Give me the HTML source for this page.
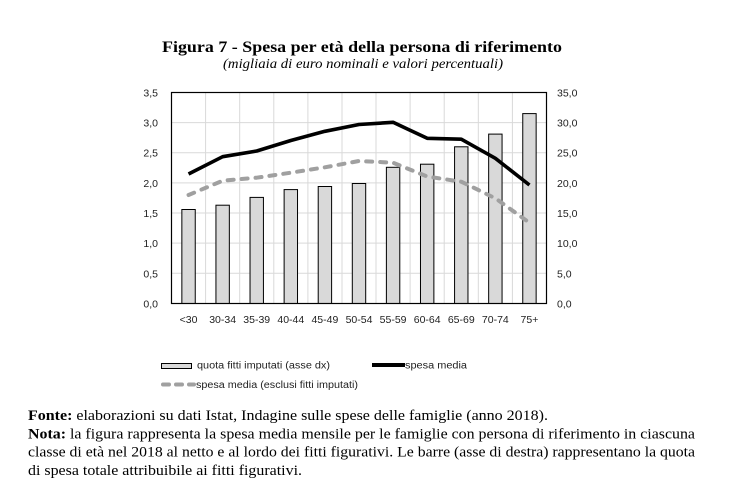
<!DOCTYPE html>
<html><head><meta charset="utf-8"><style>
html,body{margin:0;padding:0;background:#fff;}
svg{display:block;}
</style></head><body>
<svg width="731" height="493" viewBox="0 0 731 493" xmlns="http://www.w3.org/2000/svg">
<rect width="731" height="493" fill="#fff"/>
<!-- Title -->
<text x="162" y="52" font-family="Liberation Serif, serif" font-weight="bold" font-size="16" textLength="400" lengthAdjust="spacingAndGlyphs" fill="#000">Figura 7 - Spesa per età della persona di riferimento</text>
<text x="223" y="68" font-family="Liberation Serif, serif" font-style="italic" font-size="14" textLength="280" lengthAdjust="spacingAndGlyphs" fill="#000">(migliaia di euro nominali e valori percentuali)</text>

<!-- grid -->
<g stroke="#d9d9d9" stroke-width="1">
<line x1="171.5" y1="122.6" x2="546.5" y2="122.6"/>
<line x1="171.5" y1="152.7" x2="546.5" y2="152.7"/>
<line x1="171.5" y1="182.9" x2="546.5" y2="182.9"/>
<line x1="171.5" y1="213.0" x2="546.5" y2="213.0"/>
<line x1="171.5" y1="243.1" x2="546.5" y2="243.1"/>
<line x1="171.5" y1="273.3" x2="546.5" y2="273.3"/>
<line x1="205.6" y1="92.5" x2="205.6" y2="303.5"/>
<line x1="239.7" y1="92.5" x2="239.7" y2="303.5"/>
<line x1="273.8" y1="92.5" x2="273.8" y2="303.5"/>
<line x1="307.9" y1="92.5" x2="307.9" y2="303.5"/>
<line x1="342.0" y1="92.5" x2="342.0" y2="303.5"/>
<line x1="376.0" y1="92.5" x2="376.0" y2="303.5"/>
<line x1="410.1" y1="92.5" x2="410.1" y2="303.5"/>
<line x1="444.2" y1="92.5" x2="444.2" y2="303.5"/>
<line x1="478.3" y1="92.5" x2="478.3" y2="303.5"/>
<line x1="512.4" y1="92.5" x2="512.4" y2="303.5"/>
</g>

<!-- bars -->
<g fill="#d9d9d9" stroke="#000" stroke-width="1">
<rect x="181.85" y="209.5" width="13.4" height="94"/>
<rect x="215.94" y="205.2" width="13.4" height="98.3"/>
<rect x="250.03" y="197.4" width="13.4" height="106.1"/>
<rect x="284.12" y="189.6" width="13.4" height="113.9"/>
<rect x="318.21" y="186.5" width="13.4" height="117"/>
<rect x="352.30" y="183.5" width="13.4" height="120"/>
<rect x="386.39" y="167.3" width="13.4" height="136.2"/>
<rect x="420.48" y="164.2" width="13.4" height="139.3"/>
<rect x="454.57" y="146.8" width="13.4" height="156.7"/>
<rect x="488.66" y="134.1" width="13.4" height="169.4"/>
<rect x="522.75" y="113.6" width="13.4" height="189.9"/>
</g>

<!-- frame -->
<rect x="171.5" y="92.5" width="375" height="211" fill="none" stroke="#000" stroke-width="1.2"/>

<!-- gray dashed line -->
<polyline fill="none" stroke="#a0a0a0" stroke-width="4" stroke-linecap="round" stroke-linejoin="round" stroke-dasharray="6,8"
points="188.55,195 222.64,180.7 256.73,177.7 290.82,172.7 324.91,167.3 359,161 393.09,162.7 427.18,176.5 461.27,181.7 495.36,198.3 529.45,222.7"/>
<!-- black line -->
<polyline fill="none" stroke="#000" stroke-width="3.6" stroke-linejoin="round"
points="188.55,174 222.64,156.7 256.73,151 290.82,140.5 324.91,131.3 359,124.5 393.09,122.3 427.18,138.3 461.27,139.2 495.36,158.3 529.45,185"/>

<!-- left axis labels -->
<g font-family="Liberation Sans, sans-serif" font-size="10.5" fill="#222" text-anchor="end">
<text x="158" y="96.5">3,5</text>
<text x="158" y="126.6">3,0</text>
<text x="158" y="156.7">2,5</text>
<text x="158" y="186.9">2,0</text>
<text x="158" y="217">1,5</text>
<text x="158" y="247.1">1,0</text>
<text x="158" y="277.3">0,5</text>
<text x="158" y="307.4">0,0</text>
</g>
<!-- right axis labels -->
<g font-family="Liberation Sans, sans-serif" font-size="10.5" fill="#222">
<text x="557" y="96.5">35,0</text>
<text x="557" y="126.6">30,0</text>
<text x="557" y="156.7">25,0</text>
<text x="557" y="186.9">20,0</text>
<text x="557" y="217">15,0</text>
<text x="557" y="247.1">10,0</text>
<text x="557" y="277.3">5,0</text>
<text x="557" y="307.4">0,0</text>
</g>
<!-- x labels -->
<g font-family="Liberation Sans, sans-serif" font-size="10.5" fill="#222" text-anchor="middle">
<text x="188.55" y="323">&lt;30</text>
<text x="222.64" y="323">30-34</text>
<text x="256.73" y="323">35-39</text>
<text x="290.82" y="323">40-44</text>
<text x="324.91" y="323">45-49</text>
<text x="359" y="323">50-54</text>
<text x="393.09" y="323">55-59</text>
<text x="427.18" y="323">60-64</text>
<text x="461.27" y="323">65-69</text>
<text x="495.36" y="323">70-74</text>
<text x="529.45" y="323">75+</text>
</g>

<!-- legend -->
<rect x="161.5" y="363.5" width="30" height="5" fill="#d9d9d9" stroke="#000" stroke-width="1"/>
<text x="197" y="368.5" font-family="Liberation Sans, sans-serif" font-size="10" fill="#222" textLength="133" lengthAdjust="spacingAndGlyphs">quota fitti imputati (asse dx)</text>
<line x1="372" y1="365" x2="405" y2="365" stroke="#000" stroke-width="4"/>
<text x="405" y="368.5" font-family="Liberation Sans, sans-serif" font-size="10" fill="#222" textLength="62" lengthAdjust="spacingAndGlyphs">spesa media</text>
<line x1="163" y1="384.5" x2="194" y2="384.5" stroke="#a0a0a0" stroke-width="4" stroke-linecap="round" stroke-dasharray="6,7"/>
<text x="196" y="388" font-family="Liberation Sans, sans-serif" font-size="10" fill="#222" textLength="162" lengthAdjust="spacingAndGlyphs">spesa media (esclusi fitti imputati)</text>

<!-- footer -->
<g font-family="Liberation Serif, serif" font-size="14.5" fill="#000">
<text x="28" y="420" textLength="520" lengthAdjust="spacingAndGlyphs"><tspan font-weight="bold">Fonte:</tspan> elaborazioni su dati Istat, Indagine sulle spese delle famiglie (anno 2018).</text>
<text x="28" y="438.3" textLength="667" lengthAdjust="spacingAndGlyphs"><tspan font-weight="bold">Nota:</tspan> la figura rappresenta la spesa media mensile per le famiglie con persona di riferimento in ciascuna</text>
<text x="28" y="456.6" textLength="667" lengthAdjust="spacingAndGlyphs">classe di età nel 2018 al netto e al lordo dei fitti figurativi. Le barre (asse di destra) rappresentano la quota</text>
<text x="28" y="475" textLength="274" lengthAdjust="spacingAndGlyphs">di spesa totale attribuibile ai fitti figurativi.</text>
</g>
</svg>
</body></html>
